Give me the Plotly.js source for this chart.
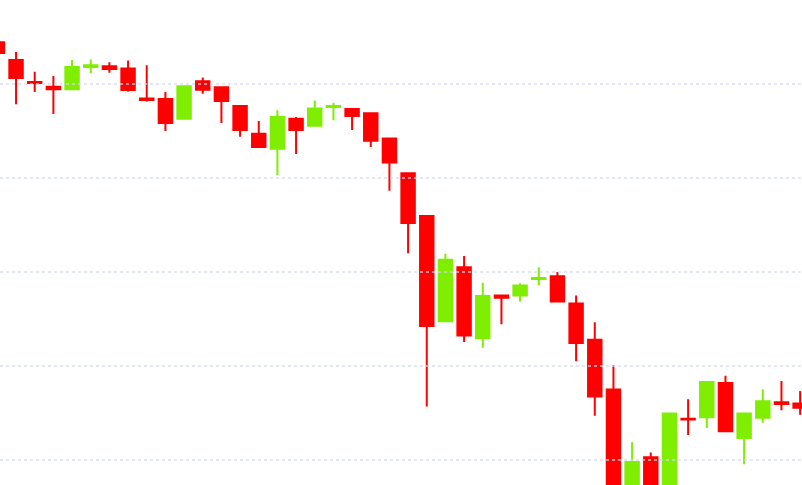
<!DOCTYPE html>
<html>
<head>
<meta charset="utf-8">
<script src="https://cdn.plot.ly/plotly-3.0.1.min.js"></script>
<style>
  html, body { margin: 0; padding: 0; background: #ffffff; }
  #chart { width: 802px; height: 485px; }
</style>
</head>
<body>
<div id="chart"></div>
<script>
// Sessions (index) and OHLC values
var sessions = [1,2,3,4,5,6,7,8,9,10,11,12,13,14,15,16,17,18,19,20,21,22,23,24,25,26,27,28,29,30,31,32,33,34,35,36,37,38,39,40,41,42,43,44];
var openPrices  = [8889,8851,8804,8794,8789,8836,8838,8833,8769,8768,8726,8806,8793,8753,8694,8662,8726,8711,8751,8747,8738,8684,8610,8519,8295,8410,8259,8350,8350,8385,8391,8333,8256,8150,7915,8006,7920,8088,8091,8164,8047,8090,8123,8120];
var highPrices  = [8894,8868,8826,8817,8851,8852,8846,8850,8840,8783,8796,8814,8794,8754,8721,8744,8730,8765,8760,8748,8739,8686,8611,8520,8439,8434,8377,8351,8376,8410,8400,8350,8293,8202,8038,8016,8100,8129,8167,8179,8100,8150,8168,8147];
var lowPrices   = [8862,8757,8783,8736,8789,8823,8824,8784,8763,8700,8724,8779,8717,8688,8665,8606,8651,8710,8723,8702,8666,8573,8440,8114,8294,8251,8239,8289,8337,8371,8335,8210,8094,7872,7894,7904,7905,8053,8068,8060,7991,8079,8106,8096];
var closePrices = [8866,8813,8802,8789,8836,8840,8832,8787,8766,8717,8795,8788,8764,8702,8666,8730,8702,8748,8753,8732,8679,8633,8504,8285,8426,8265,8349,8345,8371,8387,8337,8249,8135,7904,7996,7926,8099,8086,8166,8061,8099,8125,8119,8111];
var gridLevels = [8000, 8200, 8400, 8600, 8800];

var upColor = '#7fee00';
var downColor = '#ff0000';

var trace = {
  type: 'candlestick',
  x: sessions,
  open: openPrices,
  high: highPrices,
  low: lowPrices,
  close: closePrices,
  increasing: { line: { color: upColor, width: 2 }, fillcolor: upColor },
  decreasing: { line: { color: downColor, width: 2 }, fillcolor: downColor },
  whiskerwidth: 0,
  hoverinfo: 'none',
  showlegend: false
};

var shapes = gridLevels.map(function (v) {
  return {
    type: 'line', xref: 'paper', x0: 0, x1: 1, yref: 'y', y0: v, y1: v,
    layer: 'above',
    line: { color: 'rgba(212,216,240,0.85)', width: 1.5, dash: 'dot' }
  };
});

var layout = {
  width: 802,
  height: 485,
  margin: { l: 0, r: 0, t: 0, b: 0, pad: 0 },
  paper_bgcolor: '#ffffff',
  plot_bgcolor: '#ffffff',
  showlegend: false,
  boxgap: 0.28,
  boxgroupgap: 0,
  xaxis: {
    range: [1.14, 44.10],
    visible: false,
    showgrid: false,
    zeroline: false,
    rangeslider: { visible: false },
    fixedrange: true
  },
  yaxis: {
    range: [7946.8, 8978.7],
    visible: false,
    showgrid: false,
    zeroline: false,
    fixedrange: true
  },
  shapes: shapes
};

Plotly.newPlot('chart', [trace], layout, { displayModeBar: false, staticPlot: true });
</script>
</body>
</html>
